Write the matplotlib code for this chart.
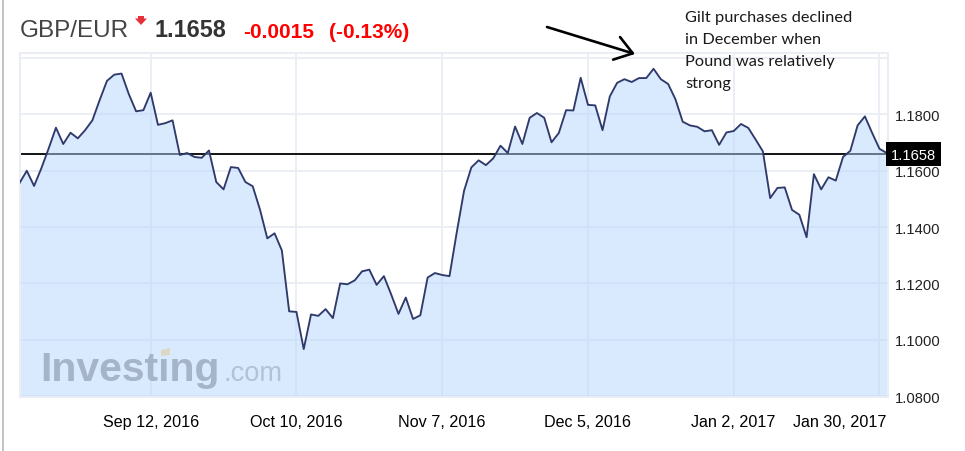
import matplotlib
matplotlib.use("Agg")
import numpy as np
import matplotlib.pyplot as plt
from matplotlib.patches import Polygon, Rectangle
from matplotlib.transforms import ScaledTranslation

W, H = 965, 452

# GBP/EUR daily close
rates = [
    1.1556, 1.1600, 1.1546, 1.1609, 1.1679, 1.1753, 1.1695, 1.1735, 1.1715, 1.1744,
    1.1779, 1.1851, 1.1919, 1.1941, 1.1945, 1.1872, 1.1811, 1.1815, 1.1877, 1.1763,
    1.1769, 1.1779, 1.1656, 1.1663, 1.1649, 1.1646, 1.1672, 1.1560, 1.1534, 1.1613,
    1.1610, 1.1560, 1.1545, 1.1462, 1.1360, 1.1378, 1.1317, 1.1101, 1.1099, 1.0967,
    1.1090, 1.1085, 1.1109, 1.1077, 1.1200, 1.1197, 1.1211, 1.1243, 1.1249, 1.1195,
    1.1226, 1.1161, 1.1092, 1.1150, 1.1074, 1.1087, 1.1221, 1.1237, 1.1230, 1.1226,
    1.1382, 1.1529, 1.1612, 1.1637, 1.1620, 1.1644, 1.1689, 1.1663, 1.1757, 1.1695,
    1.1788, 1.1805, 1.1788, 1.1701, 1.1734, 1.1815, 1.1814, 1.1930, 1.1834, 1.1832,
    1.1744, 1.1864, 1.1912, 1.1925, 1.1915, 1.1929, 1.1929, 1.1962, 1.1925, 1.1908,
    1.1854, 1.1774, 1.1761, 1.1756, 1.1740, 1.1744, 1.1692, 1.1736, 1.1741, 1.1766,
    1.1752, 1.1711, 1.1669, 1.1503, 1.1539, 1.1541, 1.1461, 1.1444, 1.1364, 1.1588,
    1.1534, 1.1577, 1.1565, 1.1649, 1.1671, 1.1761, 1.1793, 1.1734, 1.1678, 1.1663,
]
last_rate = 1.1658

date_ticks = [18, 38, 58, 78, 98, 118]
date_labels = ["Sep 12, 2016", "Oct 10, 2016", "Nov 7, 2016", "Dec 5, 2016", "Jan 2, 2017", "Jan 30, 2017"]
rate_ticks = [1.08, 1.10, 1.12, 1.14, 1.16, 1.18, 1.20]
rate_labels = ["1.0800", "1.1000", "1.1200", "1.1400", "1.1600", "1.1800", ""]

note_lines = ["Gilt purchases declined", "in December when", "Pound was relatively", "strong"]

GRID = "#eaedf4"
SANS = "Liberation Sans"


def fx(px):
    return px / W


def fy(px):
    return 1 - px / H


fig = plt.figure(figsize=(W / 100, H / 100), dpi=100, facecolor="white")
ax = fig.add_axes([fx(19.5), fy(398), (887.5 - 19.5) / W, (398 - 54) / H])

days = np.arange(len(rates))
ax.set_xlim(0, 119.1)
ax.set_ylim(1.0797, 1.2018)

ax.grid(True, color=GRID, lw=1.3, zorder=1)
ax.set_axisbelow(True)
ax.axhline(last_rate, color="black", lw=1.3, zorder=1.5)
ax.fill_between(days, rates, ax.get_ylim()[0], color="#b4d7ff", alpha=0.5, lw=0, zorder=2)
ax.plot(days, rates, color="#2f3a6b", lw=1.35, zorder=3)

for side in ax.spines:
    ax.spines[side].set_color(GRID)
    ax.spines[side].set_linewidth(1.5)

ax.yaxis.tick_right()
ax.set_yticks(rate_ticks, rate_labels, family=SANS, fontsize=10.6, color="#222222")
ax.set_xticks(date_ticks, date_labels, family=SANS, fontsize=11.6, color="black")
ax.tick_params(axis="y", length=0, pad=5)
ax.tick_params(axis="x", length=0, pad=12.5)

# last label is pushed inside the right edge
last = ax.get_xticklabels()[-1]
last.set_ha("right")
last.set_transform(last.get_transform() + ScaledTranslation(7 / 100, 0, fig.dpi_scale_trans))

# watermark
fig.text(fx(40), fy(381.5), "Investing", family=SANS, weight="bold", fontsize=29.5, color="#a5b4c9", va="baseline")
fig.text(fx(223), fy(381.5), ".com", family=SANS, fontsize=19.6, color="#b3c1d4", va="baseline")
accent_px = [(161, 351), (170, 349), (170, 356), (161, 357)]
fig.add_artist(Polygon([(fx(a), fy(b)) for a, b in accent_px], closed=True, transform=fig.transFigure,
                       facecolor="#dcd8c4", edgecolor="none", zorder=4))

# header
fig.text(fx(20), fy(37), "GBP/EUR", family=SANS, fontsize=17.5, color="#444444", va="baseline")
fig.text(fx(155), fy(37), "1.1658", family=SANS, weight="bold", fontsize=16.8, color="#333333", va="baseline")
fig.text(fx(243), fy(37.5), "-0.0015", family=SANS, weight="bold", fontsize=15, color="#ff0000", va="baseline")
fig.text(fx(329), fy(37.5), "(-0.13%)", family=SANS, weight="bold", fontsize=15, color="#ff0000", va="baseline")
arrow_px = [(138, 17), (144, 17), (144, 19.5), (147, 19.5), (141, 26), (135, 19.5), (138, 19.5)]
fig.add_artist(Polygon([(fx(a), fy(b)) for a, b in arrow_px], closed=True, transform=fig.transFigure,
                       facecolor="#e8303a", edgecolor="none"))

# frame line at the far left of the screenshot
fig.add_artist(Rectangle((fx(2), 0), 1.5 / W, 1, transform=fig.transFigure, facecolor="#c4c4c4", edgecolor="none"))

# current price box
fig.add_artist(Rectangle((fx(886), fy(167)), 55 / W, 24 / H, transform=fig.transFigure,
                         facecolor="black", edgecolor="none"))
fig.text(fx(913.5), fy(155.5), "1.1658", family=SANS, fontsize=10.6, color="white", ha="center", va="center")

# hand-drawn note
for line, base in zip(note_lines, [21.7, 43.7, 65.7, 88]):
    fig.text(fx(685), fy(base), line, family="Lato", fontsize=11.8, color="#1a1a1a", va="baseline")
ax.annotate("", xy=(fx(635), fy(55)), xytext=(fx(547), fy(28)),
            xycoords="figure fraction", textcoords="figure fraction",
            annotation_clip=False,
            arrowprops=dict(arrowstyle="->,head_length=1.22,head_width=0.85", mutation_scale=10,
                            color="black", lw=1.9, shrinkA=0, shrinkB=0))

fig.savefig("out.png", dpi=100)
